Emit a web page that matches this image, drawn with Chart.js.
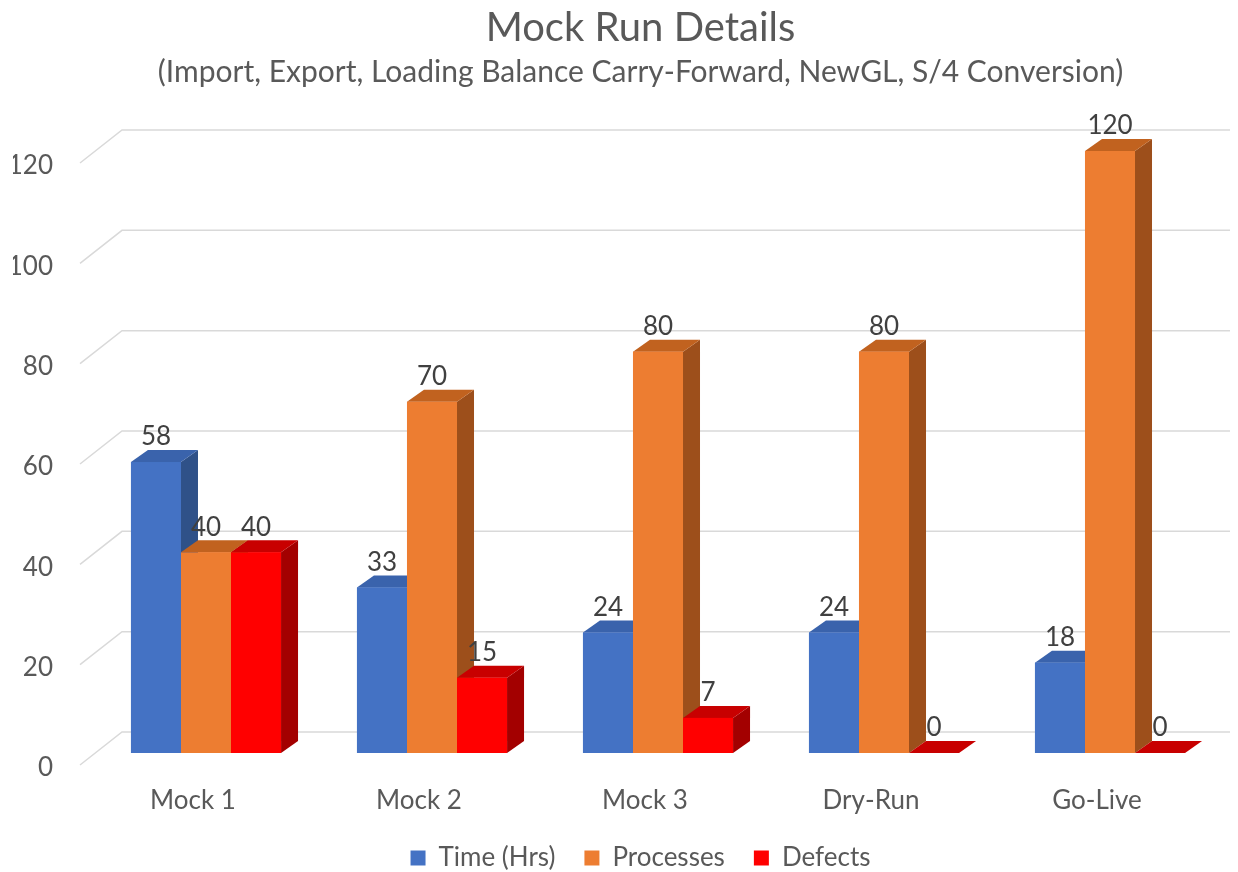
<!DOCTYPE html>
<html>
<head>
<meta charset="utf-8">
<script src="https://cdn.jsdelivr.net/npm/chart.js@4"></script>
<style>
  body { margin: 0; background: #fff; }
</style>
</head>
<body>
<canvas id="bar_chart" width="1238" height="872"></canvas>
<script>
// datos del grafico
const categories = ['Mock 1', 'Mock 2', 'Mock 3', 'Dry-Run', 'Go-Live'];
const timeHrs = [58, 33, 24, 24, 18];
const processes = [40, 70, 80, 80, 120];
const defects = [40, 15, 7, 0, 0];
const seriesNames = ['Time (Hrs)', 'Processes', 'Defects'];
const yMin = 0;
const yMax = 120;
const yStep = 20;

const FONT = 'Lato';
const TEXT = '#595959';

// colores: frente, arriba, lado
const faces = [
    { front: '#4472C4', top: '#3A63AC', side: '#2F5188' },
    { front: '#ED7D31', top: '#C1621F', side: '#9D4F1B' },
    { front: '#FF0000', top: '#C80000', side: '#A30000' }
];

const DX = 17;   // profundidad en x
const DY = -12;  // profundidad en y

// rejilla en perspectiva (detras de las barras)
const gridPlugin = {
    id: 'grid3d',
    beforeDatasetsDraw(chart) {
        let ctx = chart.ctx;
        let y = chart.scales.y;
        let left = chart.chartArea.left - 13;
        ctx.save();
        ctx.strokeStyle = '#d9d9d9';
        ctx.lineWidth = 1.5;
        y.ticks.forEach(t => {
            let yf = y.getPixelForValue(t.value) + 12;
            ctx.beginPath();
            ctx.moveTo(left, yf);
            ctx.lineTo(left + 42, yf - 33);
            ctx.lineTo(chart.width - 8, yf - 33);
            ctx.stroke();
        });
        ctx.restore();
    }
};

// caras de las barras y etiquetas
const barsPlugin = {
    id: 'bars3d',
    afterDatasetsDraw(chart) {
        let ctx = chart.ctx;
        let bars = [];
        chart.data.datasets.forEach((ds, i) => {
            chart.getDatasetMeta(i).data.forEach((bar, j) => {
                bars.push({ bar: bar, ds: i, value: ds.data[j] });
            });
        });
        bars.sort((a, b) => a.bar.x - b.bar.x);

        ctx.save();
        bars.forEach(b => {
            let p = b.bar.getProps(['x', 'y', 'base', 'width'], true);
            let l = p.x - p.width / 2;
            let r = p.x + p.width / 2;
            let c = faces[b.ds];

            // lado
            ctx.fillStyle = c.side;
            ctx.beginPath();
            ctx.moveTo(r, p.y);
            ctx.lineTo(r + DX, p.y + DY);
            ctx.lineTo(r + DX, p.base + DY);
            ctx.lineTo(r, p.base);
            ctx.closePath();
            ctx.fill();

            // arriba
            ctx.fillStyle = c.top;
            ctx.beginPath();
            ctx.moveTo(l, p.y);
            ctx.lineTo(l + DX, p.y + DY);
            ctx.lineTo(r + DX, p.y + DY);
            ctx.lineTo(r, p.y);
            ctx.closePath();
            ctx.fill();

            // frente
            ctx.fillStyle = c.front;
            ctx.fillRect(l, p.y, p.width, p.base - p.y);
        });

        ctx.fillStyle = '#404040';
        ctx.font = '26px ' + FONT;
        ctx.textAlign = 'center';
        ctx.textBaseline = 'middle';
        bars.forEach(b => {
            let p = b.bar.getProps(['x', 'y'], true);
            ctx.fillText(String(b.value), p.x, p.y - 25);
        });
        ctx.restore();
    }
};

const allSeries = [timeHrs, processes, defects];

let config = {
    type: 'bar',
    data: {
        labels: categories,
        datasets: allSeries.map((d, i) => ({
            label: seriesNames[i],
            data: d,
            backgroundColor: faces[i].front,
            borderWidth: 0,
            barPercentage: 1,
            categoryPercentage: 0.664
        }))
    },
    options: {
        responsive: false,
        animation: false,
        layout: { padding: { left: 13, right: -30, top: 0, bottom: -9 } },
        plugins: {
            title: {
                display: true,
                text: 'Mock Run Details',
                color: TEXT,
                font: { family: FONT, size: 40, weight: 'normal' },
                padding: { top: 4, bottom: 0 }
            },
            subtitle: {
                display: true,
                text: '(Import, Export, Loading Balance Carry-Forward, NewGL, S/4 Conversion)',
                color: TEXT,
                font: { family: FONT, size: 30 },
                padding: { top: 2, bottom: 61 }
            },
            legend: {
                position: 'bottom',
                labels: {
                    color: TEXT,
                    font: { family: FONT, size: 26 },
                    boxWidth: 15,
                    boxHeight: 15,
                    padding: 29
                }
            },
            tooltip: { enabled: false }
        },
        scales: {
            x: {
                grid: { display: false, drawTicks: false },
                border: { display: false },
                ticks: {
                    color: TEXT,
                    font: { family: FONT, size: 26 },
                    padding: 32,
                    labelOffset: -13,
                    maxRotation: 0
                },
                afterFit: s => { s.height = 63; }
            },
            y: {
                min: yMin,
                max: yMax,
                grid: { display: false, drawTicks: false },
                border: { display: false },
                ticks: {
                    stepSize: yStep,
                    color: TEXT,
                    font: { family: FONT, size: 26 },
                    padding: 40,
                    labelOffset: 15
                },
                afterFit: s => { s.width = 80; }
            },
            // eje vacio a la derecha, solo para dejar margen
            yRight: {
                position: 'right',
                grid: { display: false, drawTicks: false },
                border: { display: false },
                ticks: { display: false },
                afterFit: s => { s.width = 45; }
            }
        }
    },
    plugins: [gridPlugin, barsPlugin]
};

new Chart(document.getElementById('bar_chart').getContext('2d'), config);
</script>
</body>
</html>
